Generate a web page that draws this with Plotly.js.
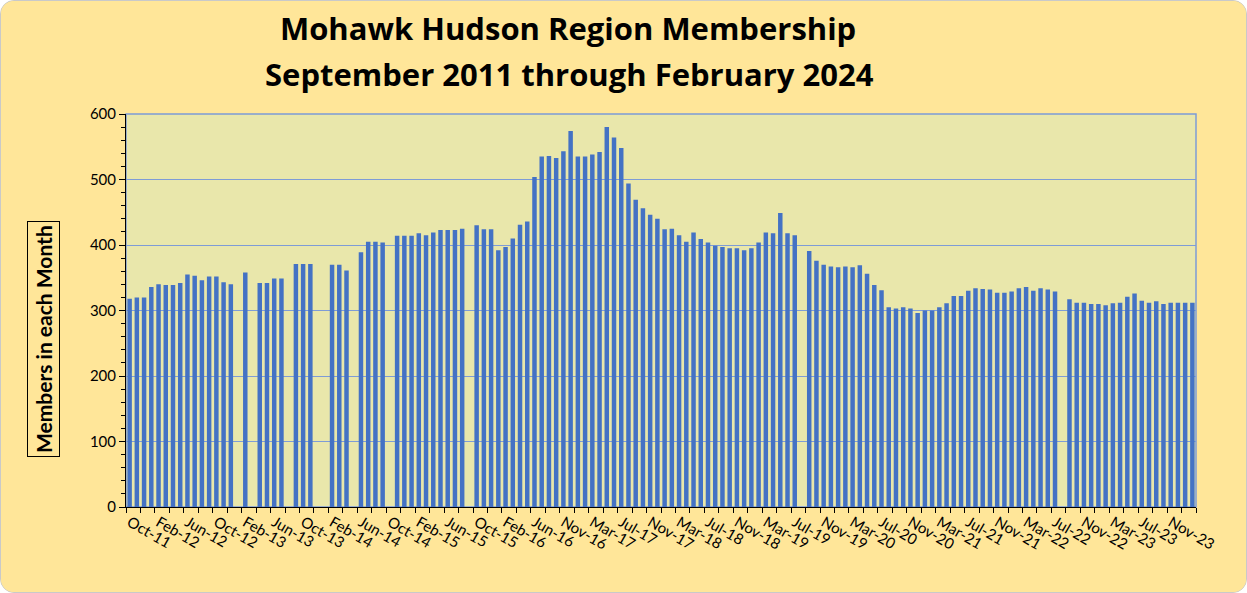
<!DOCTYPE html>
<html>
<head>
<meta charset="utf-8">
<script src="https://cdn.plot.ly/plotly-3.0.1.min.js"></script>
<style>
html, body { margin: 0; padding: 0; background: #ffffff; }
#chart { width: 1247px; height: 593px; box-sizing: border-box; border: 1px solid #c9c9c9; border-radius: 14px; overflow: hidden; background: #FFE699; }
</style>
</head>
<body>
<div id="chart"></div>
<script>
// Month categories (one month missing in the source series between Jun-16 and Nov-16)
const months = [
  "Oct-11","Nov-11","Dec-11",
  "Jan-12","Feb-12","Mar-12","Apr-12","May-12","Jun-12","Jul-12","Aug-12","Sep-12","Oct-12","Nov-12","Dec-12",
  "Jan-13","Feb-13","Mar-13","Apr-13","May-13","Jun-13","Jul-13","Aug-13","Sep-13","Oct-13","Nov-13","Dec-13",
  "Jan-14","Feb-14","Mar-14","Apr-14","May-14","Jun-14","Jul-14","Aug-14","Sep-14","Oct-14","Nov-14","Dec-14",
  "Jan-15","Feb-15","Mar-15","Apr-15","May-15","Jun-15","Jul-15","Aug-15","Sep-15","Oct-15","Nov-15","Dec-15",
  "Jan-16","Feb-16","Mar-16","Apr-16","May-16","Jun-16","Jul-16","Aug-16","Oct-16","Nov-16","Dec-16",
  "Jan-17","Feb-17","Mar-17","Apr-17","May-17","Jun-17","Jul-17","Aug-17","Sep-17","Oct-17","Nov-17","Dec-17",
  "Jan-18","Feb-18","Mar-18","Apr-18","May-18","Jun-18","Jul-18","Aug-18","Sep-18","Oct-18","Nov-18","Dec-18",
  "Jan-19","Feb-19","Mar-19","Apr-19","May-19","Jun-19","Jul-19","Aug-19","Sep-19","Oct-19","Nov-19","Dec-19",
  "Jan-20","Feb-20","Mar-20","Apr-20","May-20","Jun-20","Jul-20","Aug-20","Sep-20","Oct-20","Nov-20","Dec-20",
  "Jan-21","Feb-21","Mar-21","Apr-21","May-21","Jun-21","Jul-21","Aug-21","Sep-21","Oct-21","Nov-21","Dec-21",
  "Jan-22","Feb-22","Mar-22","Apr-22","May-22","Jun-22","Jul-22","Aug-22","Sep-22","Oct-22","Nov-22","Dec-22",
  "Jan-23","Feb-23","Mar-23","Apr-23","May-23","Jun-23","Jul-23","Aug-23","Sep-23","Oct-23","Nov-23","Dec-23",
  "Jan-24","Feb-24"
];

// Members in each month (null = no data reported)
const members = [
  318,320,320,
  336,340,339,339,342,355,353,346,352,352,343,340,
  null,358,null,342,342,349,349,null,371,371,371,null,
  null,370,370,361,null,389,405,405,404,null,414,414,
  414,418,415,419,423,423,423,425,null,430,424,424,
  392,397,410,431,436,504,535,536,533,543,574,
  535,535,538,542,580,564,548,494,469,456,446,440,
  424,425,415,405,419,409,404,399,397,395,395,392,
  395,404,419,418,449,418,415,null,391,376,370,367,
  366,367,366,369,356,339,331,305,303,305,303,296,
  300,300,305,311,322,322,330,334,333,332,327,327,
  329,334,336,330,334,332,329,null,317,312,312,310,
  310,308,311,312,321,326,315,312,314,310,312,312,
  312,312
];

// Category positions of the x tick labels (every fourth category)
const labelEvery = 4;

const titleLine1 = "Mohawk Hudson Region Membership";
const titleLine2 = "September 2011 through February 2024";
const yTitle = "Members in each Month";

const xIdx = months.map((m, i) => i);
const tickIdx = xIdx.filter(i => i % labelEvery === 0);
const tickTxt = tickIdx.map(i => months[i]);

const trace = {
  type: "bar",
  x: xIdx,
  y: members,
  customdata: months,
  hovertemplate: "%{customdata}: %{y}<extra></extra>",
  marker: { color: "#4472C4", line: { width: 0 } }
};

const gridCol = "#7E9CD6";

const layout = {
  width: 1245,
  height: 591,
  paper_bgcolor: "#FFE699",
  plot_bgcolor: "#E9E7AB",
  margin: { l: 125, r: 50, t: 113, b: 85 },
  bargap: 0.38,
  showlegend: false,
  font: { family: "Lato, 'Open Sans', sans-serif", color: "#000" },
  title: {
    text: "<b>" + titleLine1 + "</b>",
    font: { family: "'Open Sans', Lato, sans-serif", size: 31, color: "#000" },
    xref: "container", yref: "container",
    x: 0.4555, xanchor: "center",
    y: 0.952, yanchor: "middle"
  },
  annotations: [
    {
      text: "<b>" + titleLine2 + "</b>",
      xref: "paper", yref: "paper",
      x: (568 - 125) / (1245 - 125 - 50), xanchor: "center",
      y: 1 + (113 - 73) / (591 - 113 - 85), yanchor: "middle",
      showarrow: false,
      font: { family: "'Open Sans', Lato, sans-serif", size: 31, color: "#000" }
    },
    {
      text: "<b>" + yTitle + "</b>",
      textangle: -90,
      xref: "paper", yref: "paper",
      x: -(125 - 42) / (1245 - 125 - 50), xanchor: "center",
      y: (591 - 85 - 338) / (591 - 113 - 85), yanchor: "middle",
      showarrow: false,
      bordercolor: "#000", borderwidth: 1, borderpad: 3,
      font: { family: "Lato, sans-serif", size: 21, color: "#000" }
    }
  ],
  xaxis: {
    range: [-0.5, months.length - 0.5],
    tickmode: "array",
    tickvals: tickIdx,
    ticktext: tickTxt,
    tickangle: 30,
    ticks: "",
    tickfont: { size: 15, family: "Lato, sans-serif", color: "#000" },
    showgrid: false,
    zeroline: false,
    showline: true, linecolor: "#000", linewidth: 1,
    minor: { tickmode: "linear", tick0: -0.5, dtick: 2, ticks: "outside", ticklen: 5, tickcolor: "#000", tickwidth: 1, showgrid: false },
    fixedrange: true
  },
  yaxis: {
    range: [0, 600],
    tickmode: "linear", tick0: 0, dtick: 100,
    ticks: "outside", ticklen: 6, tickcolor: "#000",
    tickfont: { size: 15, family: "Lato, sans-serif", color: "#000" },
    showgrid: true, gridcolor: gridCol, gridwidth: 1,
    zeroline: false,
    showline: true, linecolor: "#000", linewidth: 1,
    minor: { tickmode: "linear", tick0: 0, dtick: 20, ticks: "outside", ticklen: 4, tickcolor: "#000", showgrid: false },
    fixedrange: true
  },
  shapes: [
    { type: "rect", xref: "paper", yref: "paper", x0: 0, x1: 1, y0: 0, y1: 1,
      line: { color: gridCol, width: 1.5 }, layer: "below" }
  ]
};

Plotly.newPlot("chart", [trace], layout, { displayModeBar: false, staticPlot: true });
</script>
</body>
</html>
